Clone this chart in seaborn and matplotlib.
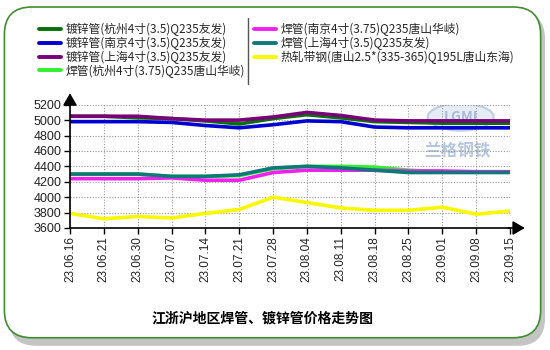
import matplotlib
matplotlib.use("Agg")
import matplotlib.pyplot as plt
import seaborn as sns
import pandas as pd
from matplotlib.patches import FancyBboxPatch, Ellipse
from matplotlib.lines import Line2D

sns.set_theme(style="white")
plt.rcParams['font.family'] = ['Noto Sans CJK SC', 'DejaVu Sans']

dates = ["23.06.16", "23.06.21", "23.06.30", "23.07.07", "23.07.14", "23.07.21", "23.07.28",
         "23.08.04", "23.08.11", "23.08.18", "23.08.25", "23.09.01", "23.09.08", "23.09.15"]

names = ["镀锌管(杭州4寸(3.5)Q235友发)",
         "镀锌管(南京4寸(3.5)Q235友发)",
         "镀锌管(上海4寸(3.5)Q235友发)",
         "焊管(杭州4寸(3.75)Q235唐山华岐)",
         "焊管(南京4寸(3.75)Q235唐山华岐)",
         "焊管(上海4寸(3.5)Q235友发)",
         "热轧带钢(唐山2.5*(335-365)Q195L唐山东海)"]

hz_galv = [5050, 5050, 5030, 5020, 4990, 4950, 5020, 5070, 5030, 4980, 4970, 4960, 4960, 4960]
nj_galv = [4980, 4980, 4980, 4970, 4930, 4900, 4940, 4990, 4980, 4910, 4900, 4900, 4900, 4900]
sh_galv = [5050, 5050, 5050, 5020, 5000, 5000, 5040, 5100, 5060, 5000, 4990, 4990, 4990, 4990]
hz_weld = [4300, 4300, 4300, 4270, 4270, 4280, 4370, 4400, 4400, 4390, 4350, 4330, 4330, 4330]
nj_weld = [4240, 4240, 4240, 4250, 4220, 4220, 4320, 4350, 4350, 4350, 4340, 4340, 4330, 4330]
sh_weld = [4300, 4300, 4300, 4270, 4270, 4290, 4380, 4400, 4380, 4350, 4320, 4320, 4320, 4320]
strip = [3790, 3720, 3750, 3730, 3790, 3840, 4000, 3930, 3860, 3830, 3830, 3870, 3780, 3820]

yticks = [3600, 3800, 4000, 4200, 4400, 4600, 4800, 5000, 5200]
title = "江浙沪地区焊管、镀锌管价格走势图"

series = [hz_galv, nj_galv, sh_galv, hz_weld, nj_weld, sh_weld, strip]
colors = ["#087008", "#0000d0", "#780078", "#30f030", "#f020f0", "#107878", "#f8f800"]

fig = plt.figure(figsize=(5.5, 3.5), dpi=100)
fig.patch.set_facecolor("white")

# frame with shadow
shadow = FancyBboxPatch((0.016, 0.012), 0.975, 0.955, boxstyle="round,pad=0,rounding_size=0.05",
                        transform=fig.transFigure, facecolor="#c4c4c4", edgecolor="none",
                        mutation_aspect=550 / 350, zorder=0)
frame = FancyBboxPatch((0.008, 0.035), 0.975, 0.945, boxstyle="round,pad=0,rounding_size=0.05",
                       transform=fig.transFigure, facecolor="white", edgecolor="#3e8e2e",
                       linewidth=1.2, mutation_aspect=550 / 350, zorder=1)
fig.patches.extend([shadow, frame])

ax = fig.add_axes([70 / 550, 1 - 228 / 350, 440 / 550, 123.3 / 350])
ax.set_facecolor("none")
ax.set_zorder(3)

x = list(range(len(dates)))
for name, vals, col in zip(names, series, colors):
    df = pd.DataFrame({"x": x, "y": vals})
    sns.lineplot(data=df, x="x", y="y", ax=ax, color=col, linewidth=2.6, label=name, legend=False)

ax.set_xlim(0, len(dates) - 1)
ax.set_ylim(3600, 5200)
ax.set_xticks(x)
ax.set_xticklabels(dates, rotation=90, family=['Liberation Sans', 'DejaVu Sans'], fontsize=8.5)
ax.set_yticks(yticks)
ax.set_yticklabels([str(v) for v in yticks], family=['Liberation Sans', 'DejaVu Sans'], fontsize=9)
ax.set_xlabel("")
ax.set_ylabel("")
ax.grid(True, linestyle=(0, (1, 1.5)), color="#999999", linewidth=0.8)
for s in ["top", "right"]:
    ax.spines[s].set_visible(False)
for s in ["left", "bottom"]:
    ax.spines[s].set_color("black")
    ax.spines[s].set_linewidth(1.2)
ax.tick_params(axis="both", direction="out", length=4, width=1, color="black", pad=2,
               bottom=True, left=True, labelcolor="#222222")

# axis arrows
ax.annotate("", xy=(0, 1.115), xytext=(0, 0.99), xycoords="axes fraction",
            arrowprops=dict(arrowstyle="-|>,head_length=0.6,head_width=0.35", color="black", lw=1.2),
            annotation_clip=False)
ax.annotate("", xy=(1.04, 0), xytext=(0.99, 0), xycoords="axes fraction",
            arrowprops=dict(arrowstyle="-|>,head_length=0.6,head_width=0.35", color="black", lw=1.2),
            annotation_clip=False)

# watermark
ell = Ellipse((0.888, 0.9), 0.15, 0.22, transform=ax.transAxes, facecolor="#dfe8f3",
              edgecolor="#b0c4de", linewidth=1.5, alpha=0.8, zorder=0)
ax.add_patch(ell)
ax.text(0.888, 0.9, "LGMI", transform=ax.transAxes, ha="center", va="center",
        fontsize=10, color="#a8bcd8", fontweight="bold", zorder=0)
ax.text(0.88, 0.62, "兰格钢铁", transform=ax.transAxes, ha="center", va="center",
        fontsize=12, color="#b4c6de", fontweight="bold", style="italic", zorder=0)

# legend
handles = [Line2D([0], [0], color=c, linewidth=2.8) for c in colors]
leg = fig.legend(handles, names, ncol=2, loc="upper left", bbox_to_anchor=(0.06, 0.952),
                 frameon=False, fontsize=8.5, handlelength=1.85, handletextpad=0.4,
                 labelspacing=0.05, columnspacing=0.8, borderpad=0)
fig.add_artist(Line2D([248 / 550, 248 / 550], [1 - 18 / 350, 1 - 84 / 350],
                      transform=fig.transFigure, color="#555555", linewidth=1))

fig.text(262 / 550, 1 - 318 / 350, title, ha="center", va="center", fontsize=10,
         fontweight="bold", color="black")

fig.savefig("out.png", dpi=100)
